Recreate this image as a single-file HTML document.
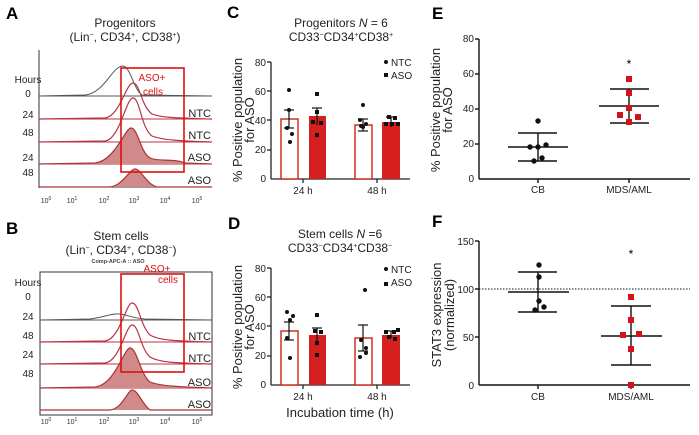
<!DOCTYPE html>
<html><head><meta charset="utf-8"><style>
html,body{margin:0;padding:0;background:#fff}
svg{display:block;font-family:"Liberation Sans",Arial,sans-serif}
</style></head><body>
<svg width="699" height="435" viewBox="0 0 699 435" xmlns="http://www.w3.org/2000/svg">
<defs>
<g id="ticksx" font-size="7" fill="#333" text-anchor="middle">
<text x="46" y="0">10<tspan dy="-3" font-size="5">0</tspan></text>
<text x="72" y="0">10<tspan dy="-3" font-size="5">1</tspan></text>
<text x="104" y="0">10<tspan dy="-3" font-size="5">2</tspan></text>
<text x="134" y="0">10<tspan dy="-3" font-size="5">3</tspan></text>
<text x="165" y="0">10<tspan dy="-3" font-size="5">4</tspan></text>
<text x="197" y="0">10<tspan dy="-3" font-size="5">5</tspan></text>
</g>
</defs>
<!-- Panel A -->
<text x="6" y="19" font-size="17" font-weight="bold">A</text>
<text x="125" y="27" font-size="12" text-anchor="middle" fill="#222">Progenitors</text>
<text x="125" y="41" font-size="12" text-anchor="middle" fill="#222">(Lin<tspan dy="-4" font-size="7">−</tspan><tspan dy="4">, CD34</tspan><tspan dy="-4" font-size="7">+</tspan><tspan dy="4">, CD38</tspan><tspan dy="-4" font-size="7">+</tspan><tspan dy="4">)</tspan></text>
<g font-size="10" fill="#222" text-anchor="middle">
<text x="28" y="83">Hours</text><text x="28" y="97">0</text><text x="28" y="118">24</text><text x="28" y="136">48</text><text x="28" y="161">24</text><text x="28" y="176">48</text>
</g>
<g font-size="11" fill="#222" text-anchor="end">
<text x="211" y="117">NTC</text><text x="211" y="139">NTC</text><text x="211" y="161">ASO</text><text x="211" y="184">ASO</text>
</g>
<g fill="none" stroke-width="1">
<line x1="39" y1="50" x2="39" y2="188" stroke="#333"/>
<line x1="39" y1="187" x2="212" y2="187" stroke="#333"/>
<line x1="39" y1="96" x2="212" y2="96" stroke="#555"/>
<line x1="39" y1="119" x2="212" y2="119" stroke="#b34"/>
<line x1="39" y1="142" x2="212" y2="142" stroke="#b34"/>
<line x1="39" y1="164" x2="212" y2="164" stroke="#b34"/>
<path d="M39,96 L85,95 C105,93 112,66 123,66 C130,66 134,90 142,95 L212,96" stroke="#555"/>
<path d="M39,119 L105,118 C120,116 126,83 133,83 C140,83 141,106 152,114 C162,118 180,118 212,119" stroke="#b34" stroke-width="1.2"/>
<path d="M39,142 L105,141 C120,139 126,98 133,98 C140,98 141,128 152,136 C162,140 180,141 212,142" stroke="#b34" stroke-width="1.2"/>
<path d="M39,164 L95,163 C115,161 125,128 131,128 C138,128 140,152 150,158 C160,162 172,158 185,163 L212,164" fill="#d08a8a" stroke="#a33" stroke-width="1.2"/>
<path d="M39,187 L110,187 C122,186 130,169 135,169 C141,169 146,184 157,187 L212,187" fill="#d08a8a" stroke="#a33" stroke-width="1.2"/>
<rect x="121" y="68" width="63" height="104" stroke="#d11" stroke-width="1.6"/>
</g>
<text x="152" y="81" font-size="10" fill="#d11" text-anchor="middle">ASO+</text>
<text x="153" y="95" font-size="10" fill="#d11" text-anchor="middle">cells</text>
<use href="#ticksx" y="203"/>

<!-- Panel B -->
<text x="6" y="234" font-size="17" font-weight="bold">B</text>
<text x="121" y="240" font-size="12" text-anchor="middle" fill="#222">Stem cells</text>
<text x="121" y="254" font-size="12" text-anchor="middle" fill="#222">(Lin<tspan dy="-4" font-size="7">−</tspan><tspan dy="4">, CD34</tspan><tspan dy="-4" font-size="7">+</tspan><tspan dy="4">, CD38</tspan><tspan dy="-4" font-size="7">−</tspan><tspan dy="4">)</tspan></text>
<text x="118" y="263" font-size="5.5" font-weight="bold" text-anchor="middle" fill="#444">Comp-APC-A :: ASO</text>
<g font-size="10" fill="#222" text-anchor="middle">
<text x="28" y="286">Hours</text><text x="28" y="300">0</text><text x="28" y="320">24</text><text x="28" y="339">48</text><text x="28" y="358">24</text><text x="28" y="377">48</text>
</g>
<g font-size="11" fill="#222" text-anchor="end">
<text x="211" y="340">NTC</text><text x="211" y="362">NTC</text><text x="211" y="386">ASO</text><text x="211" y="408">ASO</text>
</g>
<g fill="none" stroke-width="1">
<rect x="40" y="272" width="172" height="143" stroke="#333"/>
<line x1="40" y1="320" x2="212" y2="320" stroke="#555"/>
<line x1="40" y1="342" x2="212" y2="342" stroke="#b34"/>
<line x1="40" y1="364" x2="212" y2="364" stroke="#b34"/>
<line x1="40" y1="388" x2="212" y2="388" stroke="#b34"/>
<path d="M40,320 L90,319 C105,317 112,313 120,314 C128,315 132,318 145,319 L212,320" stroke="#555"/>
<path d="M40,342 L105,341 C120,339 126,303 132,303 C139,303 140,325 150,335 C160,341 180,341 212,342" stroke="#b34" stroke-width="1.2"/>
<path d="M40,364 L105,363 C120,361 126,325 132,325 C139,325 140,348 150,357 C160,363 180,363 212,364" stroke="#b34" stroke-width="1.2"/>
<path d="M40,388 L95,387 C115,385 124,348 130,348 C137,348 140,374 150,382 C160,386 180,387 212,388" fill="#d08a8a" stroke="#a33" stroke-width="1.2"/>
<path d="M40,410 L110,410 C122,409 128,390 132,390 C138,390 142,404 150,410 L212,410" fill="#d08a8a" stroke="#a33" stroke-width="1.2"/>
<rect x="121" y="274" width="63" height="98" stroke="#d11" stroke-width="1.6"/>
</g>
<text x="157" y="272" font-size="10" fill="#d11" text-anchor="middle">ASO+</text>
<text x="168" y="283" font-size="10" fill="#d11" text-anchor="middle">cells</text>
<use href="#ticksx" y="424"/>

<!-- Panel C -->
<text x="227" y="18" font-size="17" font-weight="bold">C</text>
<text x="341" y="27" font-size="12" text-anchor="middle" fill="#222">Progenitors <tspan font-style="italic">N</tspan> = 6</text>
<text x="341" y="41" font-size="12" text-anchor="middle" fill="#222">CD33<tspan dy="-4" font-size="7">−</tspan><tspan dy="4">CD34</tspan><tspan dy="-4" font-size="7">+</tspan><tspan dy="4">CD38</tspan><tspan dy="-4" font-size="7">+</tspan></text>
<g transform="translate(242,120) rotate(-90)" font-size="13" text-anchor="middle" fill="#222"><text x="0" y="0">% Positive population</text><text x="0" y="12">for ASO</text></g>
<g font-size="10" fill="#222" text-anchor="end">
<text x="266" y="66">80</text><text x="266" y="95">60</text><text x="266" y="124">40</text><text x="266" y="153">20</text><text x="266" y="182">0</text>
</g>
<g stroke="#222" stroke-width="1.3">
<line x1="271" y1="62" x2="271" y2="179"/><line x1="271" y1="179" x2="410" y2="179"/>
<line x1="267" y1="62" x2="271" y2="62"/><line x1="267" y1="91" x2="271" y2="91"/><line x1="267" y1="120" x2="271" y2="120"/><line x1="267" y1="150" x2="271" y2="150"/>
<line x1="303" y1="179" x2="303" y2="183"/><line x1="377" y1="179" x2="377" y2="183"/>
</g>
<rect x="281" y="119" width="17" height="60" fill="#fff" stroke="#c21" stroke-width="1.4"/>
<rect x="309" y="116" width="17" height="63" fill="#d62020"/>
<rect x="355" y="125" width="17" height="54" fill="#fff" stroke="#c21" stroke-width="1.4"/>
<rect x="382" y="122" width="18" height="57" fill="#d62020"/>
<g stroke="#111" stroke-width="1.2">
<line x1="289" y1="110" x2="289" y2="128"/><line x1="284" y1="110" x2="294" y2="110"/><line x1="284" y1="128" x2="294" y2="128"/>
<line x1="317" y1="108" x2="317" y2="125"/><line x1="312" y1="108" x2="322" y2="108"/>
<line x1="363" y1="119" x2="363" y2="131"/><line x1="358" y1="119" x2="368" y2="119"/><line x1="358" y1="131" x2="368" y2="131"/>
<line x1="391" y1="117" x2="391" y2="127"/><line x1="386" y1="117" x2="396" y2="117"/>
</g>
<g fill="#111">
<circle cx="289" cy="90" r="2"/><circle cx="289" cy="110" r="2"/><circle cx="287" cy="128" r="2"/><circle cx="292" cy="134" r="2"/><circle cx="290" cy="142" r="2"/>
<rect x="315" y="92" width="4" height="4"/><rect x="315" y="110" width="4" height="4"/><rect x="311" y="120" width="4" height="4"/><rect x="319" y="121" width="4" height="4"/><rect x="315" y="133" width="4" height="4"/>
<circle cx="363" cy="105" r="2"/><circle cx="360" cy="120" r="2"/><circle cx="366" cy="124" r="2"/><circle cx="361" cy="126" r="2"/><circle cx="363" cy="127" r="2"/>
<rect x="387" y="115" width="4" height="4"/><rect x="393" y="116" width="4" height="4"/><rect x="384" y="122" width="4" height="4"/><rect x="390" y="122" width="4" height="4"/><rect x="396" y="122" width="4" height="4"/>
<circle cx="386" cy="62" r="2"/><rect x="384" y="73" width="4" height="4"/>
</g>
<text x="391" y="66" font-size="10" fill="#222">NTC</text><text x="391" y="79" font-size="10" fill="#222">ASO</text>
<text x="303" y="194" font-size="10" text-anchor="middle" fill="#222">24 h</text>
<text x="377" y="194" font-size="10" text-anchor="middle" fill="#222">48 h</text>

<!-- Panel D -->
<text x="228" y="229" font-size="17" font-weight="bold">D</text>
<text x="340" y="238" font-size="12" text-anchor="middle" fill="#222">Stem cells <tspan font-style="italic">N</tspan> =6</text>
<text x="340" y="252" font-size="12" text-anchor="middle" fill="#222">CD33<tspan dy="-4" font-size="7">−</tspan><tspan dy="4">CD34</tspan><tspan dy="-4" font-size="7">+</tspan><tspan dy="4">CD38</tspan><tspan dy="-4" font-size="7">−</tspan></text>
<g transform="translate(242,327) rotate(-90)" font-size="13" text-anchor="middle" fill="#222"><text x="0" y="0">% Positive population</text><text x="0" y="12">for ASO</text></g>
<g font-size="10" fill="#222" text-anchor="end">
<text x="266" y="272">80</text><text x="266" y="301">60</text><text x="266" y="330">40</text><text x="266" y="359">20</text><text x="266" y="388">0</text>
</g>
<g stroke="#222" stroke-width="1.3">
<line x1="271" y1="268" x2="271" y2="385"/><line x1="271" y1="385" x2="410" y2="385"/>
<line x1="267" y1="268" x2="271" y2="268"/><line x1="267" y1="297" x2="271" y2="297"/><line x1="267" y1="326" x2="271" y2="326"/><line x1="267" y1="356" x2="271" y2="356"/>
<line x1="303" y1="385" x2="303" y2="389"/><line x1="377" y1="385" x2="377" y2="389"/>
</g>
<rect x="281" y="331" width="17" height="54" fill="#fff" stroke="#c21" stroke-width="1.4"/>
<rect x="309" y="335" width="17" height="50" fill="#d62020"/>
<rect x="355" y="338" width="17" height="47" fill="#fff" stroke="#c21" stroke-width="1.4"/>
<rect x="382" y="335" width="18" height="50" fill="#d62020"/>
<g stroke="#111" stroke-width="1.2">
<line x1="289" y1="322" x2="289" y2="340"/><line x1="284" y1="322" x2="294" y2="322"/><line x1="284" y1="340" x2="294" y2="340"/>
<line x1="317" y1="328" x2="317" y2="343"/><line x1="312" y1="328" x2="322" y2="328"/>
<line x1="363" y1="325" x2="363" y2="351"/><line x1="358" y1="325" x2="368" y2="325"/><line x1="358" y1="351" x2="368" y2="351"/>
<line x1="391" y1="331" x2="391" y2="338"/><line x1="386" y1="331" x2="396" y2="331"/>
</g>
<g fill="#111">
<circle cx="287" cy="312" r="2"/><circle cx="293" cy="316" r="2"/><circle cx="290" cy="320" r="2"/><circle cx="287" cy="338" r="2"/><circle cx="290" cy="358" r="2"/>
<rect x="315" y="313" width="4" height="4"/><rect x="313" y="329" width="4" height="4"/><rect x="319" y="330" width="4" height="4"/><rect x="315" y="341" width="4" height="4"/><rect x="315" y="353" width="4" height="4"/>
<circle cx="365" cy="290" r="2"/><circle cx="361" cy="340" r="2"/><circle cx="366" cy="348" r="2"/><circle cx="360" cy="357" r="2"/><circle cx="366" cy="353" r="2"/>
<rect x="384" y="330" width="4" height="4"/><rect x="392" y="330" width="4" height="4"/><rect x="396" y="328" width="4" height="4"/><rect x="387" y="335" width="4" height="4"/><rect x="393" y="337" width="4" height="4"/>
<circle cx="386" cy="269" r="2"/><rect x="384" y="282" width="4" height="4"/>
</g>
<text x="391" y="273" font-size="10" fill="#222">NTC</text><text x="391" y="286" font-size="10" fill="#222">ASO</text>
<text x="303" y="400" font-size="10" text-anchor="middle" fill="#222">24 h</text>
<text x="377" y="400" font-size="10" text-anchor="middle" fill="#222">48 h</text>
<text x="340" y="417" font-size="13" text-anchor="middle" fill="#222">Incubation time (h)</text>

<!-- Panel E -->
<text x="432" y="19" font-size="17" font-weight="bold">E</text>
<g transform="translate(440,110) rotate(-90)" font-size="13" text-anchor="middle" fill="#222"><text x="0" y="0">% Positive population</text><text x="0" y="12">for ASO</text></g>
<g font-size="10" fill="#222" text-anchor="end">
<text x="474" y="42">80</text><text x="474" y="77">60</text><text x="474" y="112">40</text><text x="474" y="147">20</text><text x="474" y="182">0</text>
</g>
<g stroke="#111" stroke-width="1.4">
<line x1="479" y1="39" x2="479" y2="179"/><line x1="479" y1="179" x2="690" y2="179"/>
<line x1="475" y1="39" x2="479" y2="39"/><line x1="475" y1="74" x2="479" y2="74"/><line x1="475" y1="109" x2="479" y2="109"/><line x1="475" y1="144" x2="479" y2="144"/>
<line x1="538" y1="179" x2="538" y2="183"/><line x1="629" y1="179" x2="629" y2="183"/>
<line x1="508" y1="147" x2="568" y2="147"/><line x1="538" y1="133" x2="538" y2="161"/><line x1="518" y1="133" x2="557" y2="133"/><line x1="518" y1="161" x2="557" y2="161"/>
<line x1="599" y1="106" x2="659" y2="106"/><line x1="629" y1="89" x2="629" y2="123"/><line x1="610" y1="89" x2="649" y2="89"/><line x1="610" y1="123" x2="649" y2="123"/>
</g>
<g fill="#111">
<circle cx="538" cy="121" r="2.7"/><circle cx="530" cy="147" r="2.7"/><circle cx="538" cy="147" r="2.7"/><circle cx="546" cy="145" r="2.7"/><circle cx="542" cy="158" r="2.7"/><circle cx="534" cy="161" r="2.7"/>
</g>
<g fill="#d6101c">
<rect x="626" y="76" width="6" height="6"/><rect x="626" y="90" width="6" height="6"/><rect x="626" y="105" width="6" height="6"/><rect x="617" y="112" width="6" height="6"/><rect x="635" y="114" width="6" height="6"/><rect x="626" y="119" width="6" height="6"/>
</g>
<text x="629" y="68" font-size="12" text-anchor="middle">*</text>
<text x="538" y="193" font-size="10" text-anchor="middle" fill="#222">CB</text>
<text x="629" y="193" font-size="10" text-anchor="middle" fill="#222">MDS/AML</text>

<!-- Panel F -->
<text x="432" y="227" font-size="17" font-weight="bold">F</text>
<g transform="translate(441,315) rotate(-90)" font-size="13" text-anchor="middle" fill="#222"><text x="0" y="0">STAT3 expression</text><text x="0" y="13">(normalized)</text></g>
<g font-size="10" fill="#222" text-anchor="end">
<text x="474" y="245">150</text><text x="474" y="293">100</text><text x="474" y="341">50</text><text x="474" y="389">0</text>
</g>
<line x1="479" y1="289" x2="690" y2="289" stroke="#111" stroke-width="1" stroke-dasharray="1.5,1.5"/>
<g stroke="#111" stroke-width="1.4">
<line x1="479" y1="241" x2="479" y2="385"/><line x1="479" y1="385" x2="690" y2="385"/>
<line x1="475" y1="241" x2="479" y2="241"/><line x1="475" y1="289" x2="479" y2="289"/><line x1="475" y1="337" x2="479" y2="337"/>
<line x1="538" y1="385" x2="538" y2="389"/><line x1="631" y1="385" x2="631" y2="389"/>
<line x1="508" y1="292" x2="569" y2="292"/><line x1="538" y1="272" x2="538" y2="312"/><line x1="518" y1="272" x2="557" y2="272"/><line x1="518" y1="312" x2="557" y2="312"/>
<line x1="601" y1="336" x2="662" y2="336"/><line x1="631" y1="306" x2="631" y2="365"/><line x1="611" y1="306" x2="651" y2="306"/><line x1="611" y1="365" x2="651" y2="365"/>
</g>
<g fill="#111">
<circle cx="539" cy="265" r="2.7"/><circle cx="539" cy="277" r="2.7"/><circle cx="539" cy="301" r="2.7"/><circle cx="544" cy="307" r="2.7"/><circle cx="535" cy="310" r="2.7"/>
</g>
<g fill="#d6101c">
<rect x="628" y="294" width="6" height="6"/><rect x="628" y="317" width="6" height="6"/><rect x="620" y="332" width="6" height="6"/><rect x="636" y="331" width="6" height="6"/><rect x="628" y="346" width="6" height="6"/><rect x="628" y="382" width="6" height="6"/>
</g>
<text x="631" y="258" font-size="12" text-anchor="middle">*</text>
<text x="538" y="400" font-size="10" text-anchor="middle" fill="#222">CB</text>
<text x="631" y="400" font-size="10" text-anchor="middle" fill="#222">MDS/AML</text>
</svg>
</body></html>
